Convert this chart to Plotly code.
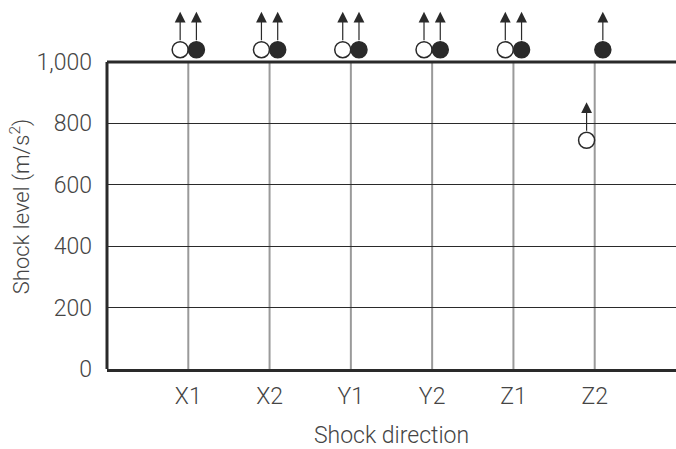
import plotly.graph_objects as go

categories = ["X1", "X2", "Y1", "Y2", "Z1", "Z2"]
open_vals = [1040, 1040, 1040, 1040, 1040, 745]
filled_vals = [1040, 1040, 1040, 1040, 1040, 1040]
y_ticks = [0, 200, 400, 600, 800, 1000]
y_ticktext = ["0", "200", "400", "600", "800", "1,000"]
y_max = 1000

FONT = "Roboto"
WEIGHT = 300
TXT = "#454545"
DARK = "#2a2a2a"
OFF = 0.1

idx = list(range(len(categories)))
xo = [i - OFF for i in idx]
xf = [i + OFF for i in idx]

fig = go.Figure()
fig.add_trace(go.Scatter(
    x=xo, y=open_vals, mode="markers", cliponaxis=False,
    marker=dict(size=16, color="white", line=dict(color=DARK, width=1.5)),
    showlegend=False))
fig.add_trace(go.Scatter(
    x=xf, y=filled_vals, mode="markers", cliponaxis=False,
    marker=dict(size=16, color=DARK, line=dict(color=DARK, width=1.5)),
    showlegend=False))

anns = []
for xs, vals in ((xo, open_vals), (xf, filled_vals)):
    for x, v in zip(xs, vals):
        anns.append(dict(x=x, y=v, xref="x", yref="y", text="", showarrow=True,
                         ax=0, ay=30, yshift=38, arrowhead=2, arrowsize=1.8,
                         arrowwidth=1.2, arrowcolor=DARK))

# y-axis title as an annotation (centred on the 0–1,000 span)
anns.append(dict(text="Shock level (m/s<sup>2</sup>)", textangle=-90,
                 xref="paper", x=-0.153, xanchor="center",
                 yref="y", y=y_max * 0.53, yanchor="middle", showarrow=False,
                 font=dict(family=FONT, size=22, color=TXT, weight=WEIGHT)))

shapes = []
for i in idx:
    shapes.append(dict(type="line", xref="x", yref="y", x0=i, x1=i, y0=0, y1=y_max,
                       line=dict(color="#9a9a9a", width=2), layer="below"))
shapes.append(dict(type="line", xref="paper", yref="y", x0=0, x1=0, y0=0, y1=y_max,
                   line=dict(color=DARK, width=3)))
shapes.append(dict(type="line", xref="paper", yref="y", x0=0, x1=1, y0=y_max, y1=y_max,
                   line=dict(color=DARK, width=3)))

fig.update_layout(
    width=676, height=449,
    margin=dict(l=107, r=0, t=0, b=80),
    paper_bgcolor="white", plot_bgcolor="white",
    font=dict(family=FONT, size=23, color=TXT, weight=WEIGHT),
    annotations=anns, shapes=shapes,
    xaxis=dict(
        range=[-1, 6], tickvals=idx, ticktext=categories,
        showgrid=False,
        showline=True, linecolor=DARK, linewidth=3,
        zeroline=False, ticks="", ticklabelstandoff=4,
        tickfont=dict(family=FONT, size=23, color=TXT, weight=WEIGHT),
        title=dict(text="Shock direction", standoff=20,
                   font=dict(family=FONT, size=23, color=TXT, weight=WEIGHT)),
    ),
    yaxis=dict(
        range=[0, 1202], tickvals=y_ticks, ticktext=y_ticktext,
        showgrid=True, gridcolor=DARK, gridwidth=1,
        showline=False,
        zeroline=False, ticks="", ticklabelstandoff=14,
        tickfont=dict(family=FONT, size=23, color=TXT, weight=WEIGHT),
    ),
)

fig.write_html("out.html", config={"displayModeBar": False},
               post_script="document.body.style.margin='0';")
